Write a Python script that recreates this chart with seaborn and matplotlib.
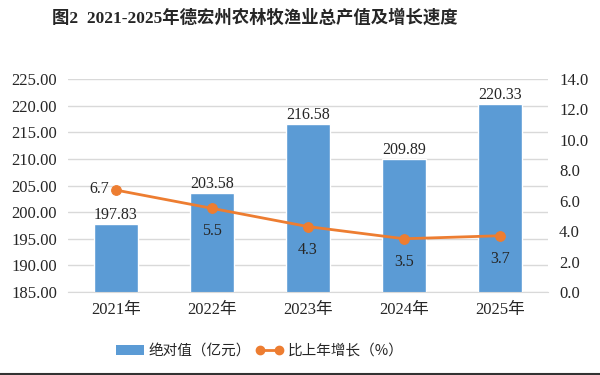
import matplotlib
matplotlib.use('Agg')
import matplotlib.pyplot as plt
import seaborn as sns
import pandas as pd
from matplotlib.lines import Line2D
from matplotlib.patches import Patch

# Data
years = ['2021年', '2022年', '2023年', '2024年', '2025年']
output_value = [197.83, 203.58, 216.58, 209.89, 220.33]
growth_rate = [6.7, 5.5, 4.3, 3.5, 3.7]

df = pd.DataFrame({'year': years, 'value': output_value, 'growth': growth_rate})

sns.set_style('white')
plt.rcParams['font.family'] = ['Liberation Serif', 'Noto Sans CJK SC', 'DejaVu Sans']

bar_color = '#5B9BD5'
line_color = '#ED7D31'

fig = plt.figure(figsize=(6, 3.75), dpi=100)
ax = fig.add_axes([0.1133, 0.2213, 0.8, 0.568])

sns.barplot(data=df, x='year', y='value', color=bar_color, width=0.46,
            saturation=1, ax=ax, zorder=2)
ax.set_ylim(185, 225)
ax.set_yticks([185 + 5 * i for i in range(9)])
ax.set_yticklabels([f'{185 + 5 * i:.2f}' for i in range(9)], fontsize=12)
ax.grid(axis='y', color='#D9D9D9', linewidth=1, zorder=0)
ax.set_axisbelow(True)
ax.set_xlabel('')
ax.set_ylabel('')
ax.tick_params(axis='x', labelsize=12, length=0, pad=7)
ax.tick_params(axis='y', length=0, pad=8)
for s in ['top', 'right', 'left']:
    ax.spines[s].set_visible(False)
ax.spines['bottom'].set_color('#D9D9D9')

for i, v in enumerate(output_value):
    ax.annotate(f'{v:.2f}', (i, v), xytext=(0, 6.5), textcoords='offset points',
                ha='center', va='center', fontsize=11.5)

ax2 = ax.twinx()
sns.lineplot(x=list(range(len(years))), y=growth_rate, ax=ax2, color=line_color,
             marker='o', markersize=7, markeredgecolor=line_color, linewidth=2)
ax2.set_ylim(0, 14)
ax2.set_yticks([2 * i for i in range(8)])
ax2.set_yticklabels([f'{2 * i:.1f}' for i in range(8)], fontsize=12)
ax2.tick_params(axis='y', length=0, pad=8)
for s in ['top', 'right', 'left', 'bottom']:
    ax2.spines[s].set_visible(False)
ax.set_xlim(-0.5, len(years) - 0.5)

for i, g in enumerate(growth_rate):
    if i == 0:
        ax2.annotate(f'{g:.1f}', (i, g), xytext=(-5, 1), textcoords='offset points',
                     ha='right', va='center', fontsize=11.5)
    else:
        ax2.annotate(f'{g:.1f}', (i, g), xytext=(0, -16.5), textcoords='offset points',
                     ha='center', va='center', fontsize=11.5)

fig.text(0.424, 0.952, '图2  2021-2025年德宏州农林牧渔业总产值及增长速度',
         ha='center', va='center', fontsize=12.5, fontweight='bold')

handles = [Patch(facecolor=bar_color, edgecolor='none'),
           Line2D([], [], color=line_color, marker='o', markersize=6, linewidth=2)]
fig.legend(handles, ['绝对值（亿元）', '比上年增长（%）'], loc='center',
           bbox_to_anchor=(0.433, 0.064), ncol=2, frameon=False,
           numpoints=2, handlelength=1.9, columnspacing=0.3, handletextpad=0.3,
           prop={'family': ['Noto Sans CJK SC'], 'size': 10.5})

fig.add_artist(Line2D([0, 1], [0.003, 0.003], transform=fig.transFigure,
                      color='#333333', linewidth=1.5))

fig.savefig('out.png', dpi=100)
